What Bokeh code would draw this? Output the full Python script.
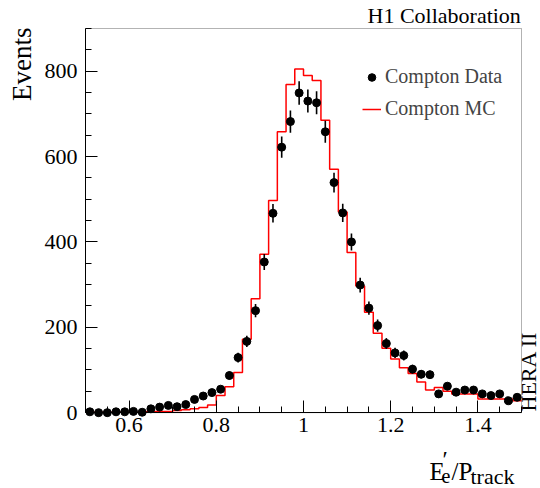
import numpy as np
from bokeh.plotting import figure
from bokeh.models import (Range1d, FixedTicker, Label, Legend, LegendItem, Title,
                          LinearAxis, BoxAnnotation)
from bokeh.embed import file_html
from bokeh.resources import INLINE

# ---- data -------------------------------------------------------------
x_lo, x_hi, n_bins = 0.5, 1.5, 50
y_lo, y_hi = 0, 900

data_counts = [2, 0, 0, 2, 2, 3, 1, 9, 13, 17,
               14, 19, 31, 39, 47, 55, 87, 129, 167, 239,
               353, 467, 622, 682, 749, 730, 726, 658, 539, 468,
               400, 299, 245, 204, 162, 140, 134, 102, 90, 89,
               44, 62, 48, 53, 53, 44, 40, 44, 28, 36]
data_errors = [1.4, 0, 0, 1.4, 1.4, 1.7, 1.0, 3.0, 3.6, 4.1,
               3.7, 4.4, 5.6, 6.2, 6.9, 7.4, 9.3, 11.4, 12.9, 15.5,
               18.8, 21.6, 24.9, 26.1, 27.4, 27.0, 26.9, 25.7, 23.2, 21.6,
               20.0, 17.3, 15.7, 14.3, 12.7, 11.8, 11.6, 10.1, 9.5, 9.4,
               6.6, 7.9, 6.9, 7.3, 7.3, 6.6, 6.3, 6.6, 5.3, 6.0]
mc_counts = [1, 1, 1, 1, 1, 1, 1, 3, 3, 3,
             5, 7, 9, 12, 18, 40, 61, 94, 172, 267,
             371, 497, 658, 769, 805, 790, 778, 685, 570, 470,
             375, 297, 235, 186, 151, 126, 105, 92, 72, 53,
             59, 50, 44, 44, 44, 32, 32, 32, 32, 28]

x_major = [0.6, 0.8, 1.0, 1.2, 1.4]
x_labels = ["0.6", "0.8", "1", "1.2", "1.4"]
x_minor = [round(0.5 + 0.05 * i, 2) for i in range(21)]
y_major = [0, 200, 400, 600, 800]
y_labels = ["0", "200", "400", "600", "800"]
y_minor = list(range(0, 901, 50))

edges = np.linspace(x_lo, x_hi, n_bins + 1)
centers = 0.5 * (edges[:-1] + edges[1:])
data = np.array(data_counts, dtype=float)
err = np.array(data_errors, dtype=float)

FONT = "Liberation Serif"

# ---- layout (pixels) --------------------------------------------------
W, H = 540, 488
BOX_L, BOX_R, BOX_T, BOX_B = 85, 521, 27, 412      # visible plot box
FRAME_T = BOX_T - 1                                 # bokeh frame reaches right/bottom edge
sx_unit = (BOX_R - BOX_L) / (x_hi - x_lo)
sy_unit = (BOX_B - BOX_T) / (y_hi - y_lo)
x_view = (x_lo, x_hi + (W - BOX_R) / sx_unit)
y_view = (y_lo - (H - BOX_B) / sy_unit, y_hi + (BOX_T - FRAME_T) / sy_unit)

p = figure(width=W, height=H, output_backend="svg", toolbar_location=None,
           x_range=Range1d(*x_view), y_range=Range1d(*y_view),
           min_border_left=BOX_L, min_border_right=0, min_border_top=FRAME_T,
           min_border_bottom=0)
p.background_fill_color = "white"
p.border_fill_color = "white"
p.outline_line_color = None
p.xgrid.visible = False
p.ygrid.visible = False

# plot box
p.add_layout(BoxAnnotation(left=x_lo, right=x_hi, bottom=y_lo, top=y_hi,
                           fill_color=None, fill_alpha=0,
                           line_color="black", line_width=1, level="overlay"))

# x axis line + small ticks at y = 0
xa = p.xaxis[0]
xa.fixed_location = y_lo
xa.bounds = (x_lo, x_hi)
xa.ticker = FixedTicker(ticks=[], minor_ticks=x_minor)
xa.axis_line_color = "black"
xa.minor_tick_in = 6
xa.minor_tick_out = 0
xa.major_tick_in = 0
xa.major_tick_out = 0
xa.minor_tick_line_color = "black"
# long ticks at the labelled positions
xt = LinearAxis(ticker=FixedTicker(ticks=[], minor_ticks=x_major),
                fixed_location=y_lo, axis_line_color=None,
                major_tick_in=0, major_tick_out=0,
                minor_tick_in=12, minor_tick_out=0,
                minor_tick_line_color="black")
p.add_layout(xt, "below")
# x tick labels (no line / ticks), placed just under y = 0
xl = LinearAxis(ticker=FixedTicker(ticks=x_major, minor_ticks=[]),
                fixed_location=y_lo - 30.5 / sy_unit,
                major_label_overrides=dict(zip(x_major, x_labels)),
                major_label_standoff=-25,
                axis_line_color=None, major_tick_line_color=None,
                minor_tick_line_color=None, major_tick_in=0, major_tick_out=0,
                minor_tick_in=0, minor_tick_out=0,
                major_label_text_font=FONT, major_label_text_font_size="22px",
                major_label_text_color="black")
p.add_layout(xl, "below")

ya = p.yaxis[0]
ya.bounds = (y_lo, y_hi)
ya.ticker = FixedTicker(ticks=y_major, minor_ticks=y_minor)
ya.major_label_overrides = dict(zip(y_major, y_labels))
ya.major_label_text_font = FONT
ya.major_label_text_font_size = "22px"
ya.major_label_text_color = "black"
ya.major_label_standoff = 8
ya.axis_line_color = "black"
ya.major_tick_in = 12
ya.major_tick_out = 0
ya.minor_tick_in = 6
ya.minor_tick_out = 0
ya.major_tick_line_color = "black"
ya.minor_tick_line_color = "black"

# ---- glyphs -----------------------------------------------------------
r_mc = p.step(x=edges, y=np.append(mc_counts, mc_counts[-1]), mode="after",
              line_color="#ff0000", line_width=1.5)
p.segment(x0=centers, y0=data - err, x1=centers, y1=data + err,
          line_color="black", line_width=1.6)
r_data = p.scatter(x=centers, y=data, size=8, color="black")

legend = Legend(items=[LegendItem(label="Compton Data", renderers=[r_data]),
                       LegendItem(label="Compton MC", renderers=[r_mc])],
                location=(277, 368), padding=0, margin=0, spacing=9,
                glyph_width=19, glyph_height=20, label_height=20,
                label_standoff=4, border_line_alpha=0,
                background_fill_alpha=0,
                label_text_font=FONT, label_text_font_size="20px")
p.add_layout(legend)

# ---- texts ------------------------------------------------------------
p.add_layout(Title(text="H1 Collaboration", align="left", offset=282, standoff=0,
                   text_font=FONT, text_font_size="22px",
                   text_font_style="normal", text_color="black"), "above")
p.add_layout(Title(text="Events", align="right", standoff=9,
                   text_font=FONT, text_font_size="27px",
                   text_font_style="normal", text_color="black"), "left")

MID = 0.3375   # (ascent - descent) / 2 of the serif font, in em


def lab(text, sx, sy, size, align="left", angle=0.0):
    """text whose baseline passes through canvas pixel (sx, sy)"""
    off = MID * size
    if angle:
        cx, cy = sx - off, sy
    else:
        cx, cy = sx, sy - off
    p.add_layout(Label(x=cx - BOX_L, y=H - cy, x_units="screen", y_units="screen",
                       text=text, text_font=FONT, text_font_size=f"{size}px",
                       text_color="black", text_align=align,
                       text_baseline="middle", angle=angle))


lab("HERA II", 535, 411, 22, align="left", angle=np.pi / 2)
# x axis title  E'_e / P_track
lab("E", 429, 479, 25)
lab("\u2032", 442, 467, 24)
lab("e", 441, 482, 20)
lab("/P", 451, 479, 25)
lab("track", 470, 483, 22)

open("out.html", "w").write(file_html(p, INLINE))
